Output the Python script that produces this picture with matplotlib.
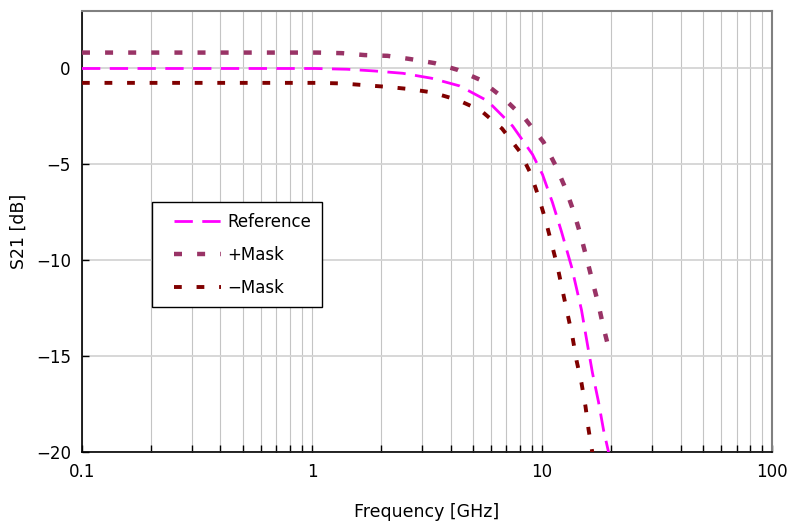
import matplotlib
matplotlib.use("Agg")
import matplotlib.pyplot as plt
from matplotlib.legend_handler import HandlerLine2D
from matplotlib.lines import Line2D
from matplotlib.ticker import FixedLocator, LogLocator, NullFormatter

# frequency [GHz] / S21 [dB]
ref_freq = [0.1, 1.03, 1.42, 1.87, 2.48, 3.31, 4.38, 5.79, 7.44, 9.08, 10.04,
            11.09, 12.13, 13.43, 14.83, 15.74, 16.55, 17.58, 18.49, 19.6]
ref_s21 = [0.0, 0.0, -0.04, -0.13, -0.25, -0.51, -0.91, -1.69, -3.0, -4.48, -5.53,
           -6.99, -8.5, -10.35, -12.6, -14.4, -15.88, -17.39, -18.86, -20.2]

plus_freq = [0.1, 1.06, 1.35, 1.69, 2.13, 2.68, 3.41, 4.29, 5.40, 6.80, 8.47,
             10.14, 11.43, 12.64, 13.69, 14.68, 15.59, 16.55, 17.58, 18.49, 19.63]
plus_s21 = [0.83, 0.83, 0.80, 0.70, 0.66, 0.49, 0.28, -0.07, -0.60, -1.55, -2.65,
            -3.84, -5.05, -6.26, -7.44, -8.66, -9.87, -11.1, -12.32, -13.52, -14.76]

minus_freq = [0.1, 1.06, 1.35, 1.69, 2.13, 2.68, 3.33, 4.29, 5.40, 6.70, 7.97,
              8.91, 9.65, 10.35, 10.99, 11.67, 12.26, 12.89, 13.55, 14.11, 14.83,
              15.44, 15.91, 16.56]
minus_s21 = [-0.75, -0.75, -0.78, -0.87, -0.96, -1.08, -1.25, -1.64, -2.18, -3.14, -4.31,
             -5.47, -6.69, -7.91, -9.13, -10.35, -11.57, -12.79, -14.0, -15.23, -16.41,
             -17.64, -18.82, -20.1]

x_ticks = [0.1, 1, 10, 100]
x_labels = ["0.1", "1", "10", "100"]
y_ticks = [-20, -15, -10, -5, 0]

plt.rcParams["font.family"] = ["DejaVu Sans"]

fig, ax = plt.subplots(figsize=(7.92, 5.23), dpi=100)
fig.subplots_adjust(left=0.1035, right=0.975, top=0.979, bottom=0.136)

ax.plot(ref_freq, ref_s21, color="#ff00ff", lw=2.0, dashes=(6.6, 3.4),
        label="Reference", zorder=3)
ax.plot(plus_freq, plus_s21, color="#993366", lw=3.2, dashes=(1.8, 3.4),
        label="+Mask", zorder=3)
ax.plot(minus_freq, minus_s21, color="#800000", lw=2.8, dashes=(2.0, 3.8),
        label="\u2212Mask", zorder=3)

ax.set_xscale("log")
ax.set_xlim(0.1, 100)
ax.set_ylim(-20, 3)
ax.xaxis.set_major_locator(FixedLocator(x_ticks))
ax.set_xticklabels(x_labels)
ax.xaxis.set_minor_locator(LogLocator(base=10, subs=range(2, 10)))
ax.xaxis.set_minor_formatter(NullFormatter())
ax.set_yticks(y_ticks)

ax.grid(True, axis="x", which="both", color="#c4c4c4", lw=0.8)
ax.grid(True, axis="y", which="major", color="#d4d4d4", lw=1.3)
ax.set_axisbelow(True)

ax.tick_params(axis="both", which="both", direction="in", labelsize=12,
               top=False, right=False)
ax.tick_params(axis="both", which="major", length=5, width=1, pad=8)
ax.tick_params(axis="x", which="minor", length=5, width=1)

for side in ["left", "bottom"]:
    ax.spines[side].set_color("black")
    ax.spines[side].set_linewidth(1.2)
for side in ["top", "right"]:
    ax.spines[side].set_color("#808080")
    ax.spines[side].set_linewidth(1.5)

ax.set_xlabel("Frequency [GHz]", fontsize=12.5, labelpad=16)
ax.set_ylabel("S21 [dB]", fontsize=12.5, labelpad=6)

# extra room on the left of each legend sample
leg = ax.legend(loc="upper left", bbox_to_anchor=(0.1013, 0.566), borderaxespad=0,
                fontsize=12, handlelength=3.5, handletextpad=0.42, labelspacing=0.9,
                borderpad=0.62, fancybox=False, framealpha=1, edgecolor="black",
                handler_map={Line2D: HandlerLine2D(xpad=0.68)})
leg.get_frame().set_linewidth(1.0)

plt.savefig("out.png", dpi=100)
